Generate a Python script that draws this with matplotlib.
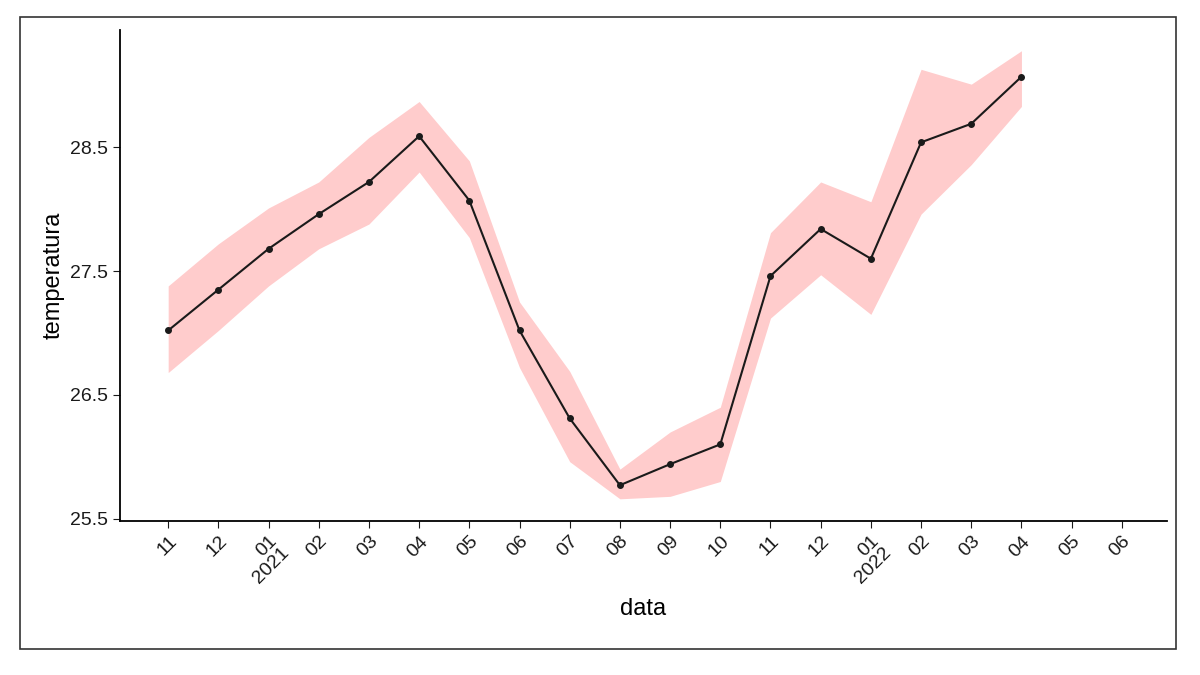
import matplotlib.pyplot as plt
from matplotlib.patches import FancyBboxPatch

plt.rcParams['font.family'] = ['Liberation Sans', 'DejaVu Sans']

tick_labels = ['11', '12', '01\n2021', '02', '03', '04', '05', '06', '07', '08',
               '09', '10', '11', '12', '01\n2022', '02', '03', '04', '05', '06']
temp = [27.02, 27.35, 27.68, 27.96, 28.22, 28.59, 28.07, 27.02, 26.31, 25.77,
        25.94, 26.10, 27.46, 27.84, 27.60, 28.54, 28.69, 29.07]
lower = [26.68, 27.02, 27.38, 27.68, 27.88, 28.30, 27.77, 26.72, 25.96, 25.66,
         25.68, 25.80, 27.12, 27.47, 27.15, 27.96, 28.36, 28.83]
upper = [27.38, 27.72, 28.01, 28.22, 28.58, 28.87, 28.39, 27.25, 26.69, 25.90,
         26.20, 26.40, 27.81, 28.22, 28.06, 29.13, 29.01, 29.28]

fig = plt.figure(figsize=(12, 6.75), dpi=100)

# card frame with shadow, kept behind the axes
fig.patches.append(FancyBboxPatch((0.022, 0.043), 0.955, 0.93, boxstyle='square,pad=0',
                                  transform=fig.transFigure, fc='#555555', ec='none',
                                  alpha=0.5, zorder=-3))
fig.patches.append(FancyBboxPatch((0.017, 0.038), 0.963, 0.937, boxstyle='square,pad=0',
                                  transform=fig.transFigure, fc='white', ec='#333333',
                                  lw=1.2, zorder=-2))

ax = fig.add_axes([0.1, 0.228, 0.8725, 0.728])
ax.patch.set_alpha(0)
x = list(range(len(temp)))
ax.fill_between(x, lower, upper, color='#ffcccc', lw=0)
ax.plot(x, temp, color='#1a1a1a', lw=1.5, marker='o', ms=4)

ax.set_xlim(-0.96, 19.9)
ax.set_ylim(25.48, 29.45)
ax.set_yticks([25.5, 26.5, 27.5, 28.5])
ax.set_yticklabels(['25.5', '26.5', '27.5', '28.5'])
ax.set_xticks(range(len(tick_labels)))
ax.set_xticklabels(tick_labels, rotation=45, ha='right', va='top',
                   rotation_mode='anchor', linespacing=0.95)
ax.tick_params(labelsize=14, colors='#1a1a1a', length=5)
for s in ['top', 'right']:
    ax.spines[s].set_visible(False)
for s in ['left', 'bottom']:
    ax.spines[s].set_linewidth(1.3)
ax.set_xlabel('data', fontsize=17, labelpad=8)
ax.set_ylabel('temperatura', fontsize=17)

fig.savefig('out.png', dpi=100)
